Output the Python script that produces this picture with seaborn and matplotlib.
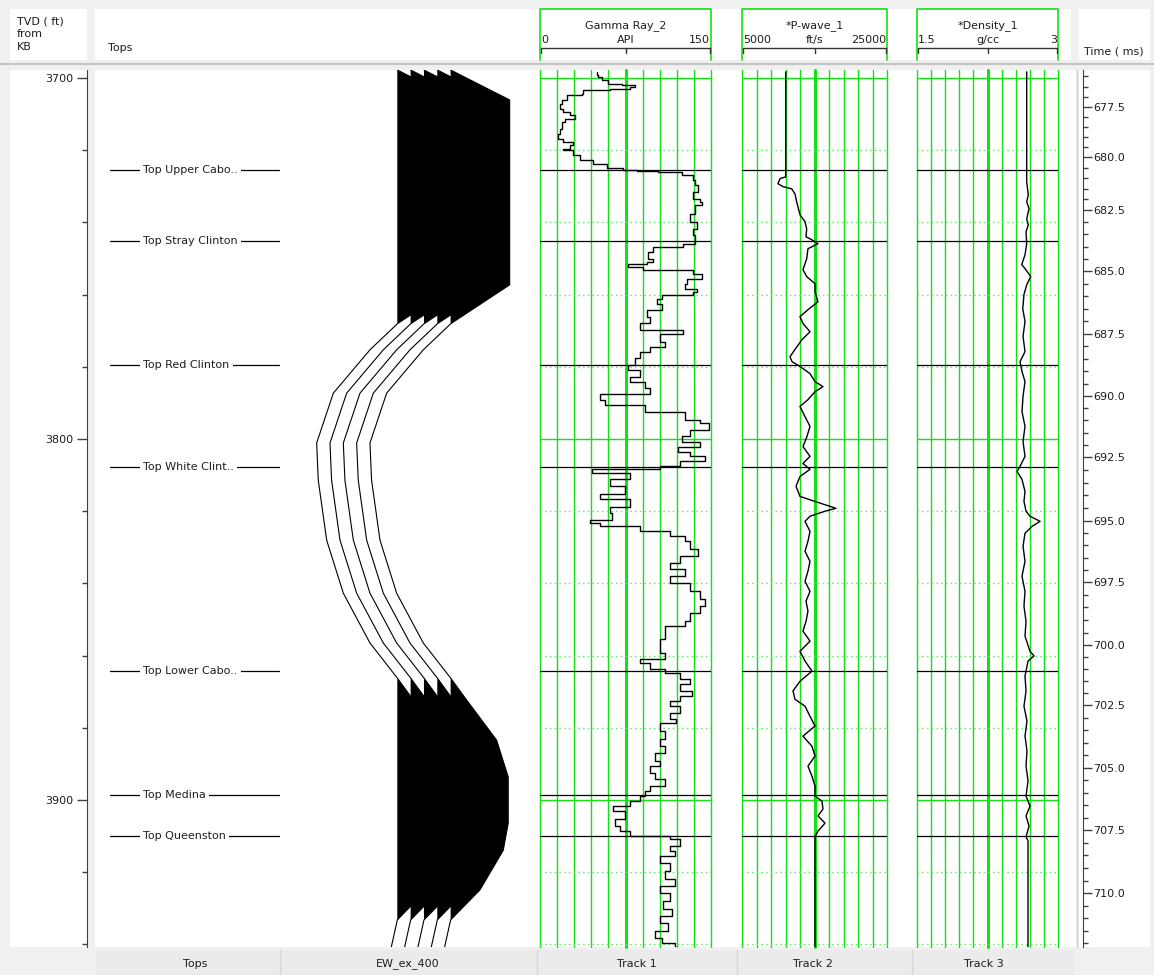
import numpy as np
import pandas as pd
import matplotlib
matplotlib.use("Agg")
import matplotlib.pyplot as plt
import seaborn as sns
from matplotlib.lines import Line2D
from matplotlib.patches import Rectangle
from matplotlib.ticker import MultipleLocator, FixedLocator, FormatStrFormatter

# -----------------------------
# Values read off the log display
# -----------------------------
top_names = ["Top Upper Cabo..", "Top Stray Clinton", "Top Red Clinton", "Top White Clint..",
             "Top Lower Cabo..", "Top Medina", "Top Queenston"]
top_depths = [3725.5, 3745.2, 3779.5, 3807.8, 3864.3, 3898.6, 3910.0]

# Gamma Ray_2 (API)
gr_depth = [3698.3, 3699.2, 3699.7, 3700.6, 3701.7, 3701.9, 3702.5, 3703.0, 3703.3, 3704.4,
            3704.7, 3706.1, 3707.2, 3708.6, 3709.4, 3710.2, 3711.3, 3712.2, 3714.1, 3715.5,
            3716.9, 3717.7, 3718.5, 3719.6, 3719.9, 3721.3, 3722.7, 3723.8, 3724.9, 3725.4,
            3725.7, 3726.0, 3726.8, 3728.2, 3729.6, 3731.5, 3733.5, 3734.3, 3735.1, 3737.6,
            3739.8, 3741.8, 3743.4, 3745.4, 3745.9, 3746.7, 3748.1, 3750.1, 3750.9, 3751.4,
            3752.3, 3753.1, 3754.2, 3755.6, 3757.0, 3758.4, 3759.2, 3760.0, 3761.1, 3762.5,
            3764.2, 3766.1, 3768.0, 3769.7, 3770.8, 3773.0, 3774.4, 3775.8, 3777.7, 3779.4,
            3780.8, 3782.7, 3784.1, 3785.8, 3787.4, 3789.1, 3790.5, 3792.4, 3794.6, 3795.7,
            3797.4, 3799.3, 3800.7, 3802.1, 3803.5, 3804.8, 3806.2, 3807.6, 3808.4, 3809.5,
            3811.2, 3813.1, 3815.1, 3816.5, 3818.7, 3820.6, 3822.3, 3823.4, 3824.2, 3825.6,
            3827.0, 3828.3, 3830.6, 3832.5, 3834.4, 3836.1, 3838.0, 3840.0, 3842.2, 3844.4,
            3846.3, 3848.3, 3850.5, 3851.9, 3853.8, 3855.5, 3857.4, 3859.3, 3861.0, 3862.1,
            3863.8, 3864.9, 3866.5, 3867.9, 3869.8, 3871.2, 3872.6, 3874.0, 3875.9, 3877.6,
            3878.7, 3880.9, 3883.1, 3885.0, 3887.0, 3889.2, 3890.6, 3892.5, 3894.2, 3896.1,
            3897.5, 3898.9, 3900.3, 3901.7, 3903.0, 3905.3, 3907.2, 3908.6, 3910.0, 3910.8,
            3912.7, 3914.1, 3915.5, 3917.4, 3919.6, 3921.8, 3923.8, 3925.7, 3927.9, 3930.2,
            3932.1, 3934.0, 3936.2, 3938.2, 3939.5, 3940.9]
gr_api = [49.7, 50.9, 54.1, 59.6, 71.7, 83.3, 78.9, 61.4, 37.7, 36.6,
          23.4, 19.0, 17.5, 20.2, 26.3, 30.7, 21.9, 19.0, 17.5, 15.8,
          20.2, 28.9, 26.3, 20.2, 28.9, 35.1, 46.5, 58.5, 72.8, 84.8,
          103.5, 124.3, 134.2, 135.9, 138.6, 134.2, 140.3, 141.8, 135.9, 131.6,
          137.4, 134.2, 135.9, 135.9, 125.4, 99.1, 94.7, 99.1, 93.6, 77.2,
          90.3, 134.2, 141.8, 128.7, 127.2, 137.4, 134.2, 106.7, 102.3, 106.7,
          93.6, 96.5, 87.7, 125.4, 105.2, 109.6, 96.5, 87.7, 83.3, 77.2,
          87.7, 78.9, 92.1, 96.5, 52.6, 57.0, 92.1, 127.2, 140.3, 148.2,
          131.6, 124.5, 140.3, 121.0, 131.6, 144.7, 122.8, 105.2, 45.6, 78.9,
          61.4, 74.5, 52.6, 78.9, 61.4, 63.1, 43.9, 52.6, 87.7, 114.0,
          127.2, 131.6, 138.6, 122.8, 114.0, 127.2, 114.0, 131.6, 140.3, 144.7,
          140.3, 131.6, 127.2, 109.6, 109.6, 105.2, 105.2, 109.6, 87.7, 96.5,
          109.6, 122.8, 131.6, 122.8, 133.3, 122.8, 114.0, 122.8, 114.0, 119.3,
          105.2, 109.6, 105.2, 109.6, 100.9, 105.2, 96.5, 100.9, 109.6, 96.5,
          92.1, 87.7, 78.9, 64.0, 74.5, 65.8, 70.2, 78.9, 114.0, 122.8,
          114.0, 118.4, 105.2, 114.0, 109.6, 118.4, 105.2, 114.0, 107.9, 115.8,
          105.2, 112.3, 100.9, 107.0, 118.4, 122.8]

# *P-wave_1 (ft/s)
vp_depth = [3698.3, 3727.4, 3727.9, 3729.3, 3730.1, 3730.7, 3732.1, 3734.3, 3737.9, 3739.8,
            3741.8, 3744.0, 3744.8, 3745.9, 3747.3, 3750.1, 3753.1, 3755.0, 3757.0, 3759.2,
            3762.0, 3764.2, 3766.1, 3768.0, 3770.3, 3772.5, 3775.2, 3777.2, 3778.6, 3779.9,
            3781.9, 3784.1, 3785.5, 3786.9, 3789.1, 3791.0, 3793.8, 3796.5, 3799.3, 3802.1,
            3804.8, 3806.8, 3808.4, 3810.4, 3813.1, 3815.9, 3817.3, 3819.2, 3820.0, 3821.4,
            3822.8, 3825.6, 3828.3, 3831.1, 3833.9, 3836.6, 3839.4, 3842.2, 3844.9, 3847.7,
            3850.5, 3853.2, 3856.0, 3858.8, 3861.5, 3864.3, 3867.1, 3869.8, 3872.1, 3874.0,
            3876.8, 3879.5, 3882.3, 3885.1, 3887.8, 3890.6, 3893.4, 3896.1, 3898.9, 3900.3,
            3902.5, 3904.4, 3906.4, 3908.6, 3910.2, 3940.9]
vp_fts = [11030, 11030, 10240, 9960, 10650, 11850, 12310, 12540, 13000, 13690,
          13920, 13830, 14610, 15480, 14100, 13920, 13410, 13920, 15070, 15070,
          15480, 14100, 13000, 13410, 14380, 13270, 12310, 11620, 11900, 13000,
          14380, 15070, 16170, 15070, 14100, 13000, 13690, 14380, 13960, 13410,
          14380, 13410, 14380, 13000, 12450, 13000, 15070, 17960, 16450, 14380,
          13690, 14380, 14100, 13690, 14380, 14100, 13690, 14380, 13830, 14100,
          13830, 13410, 14380, 13000, 13690, 14650, 13000, 12030, 12310, 13690,
          14380, 15070, 13410, 14650, 15070, 14100, 14650, 15070, 15070, 16030,
          16170, 15480, 16450, 15480, 15070, 15070]

# *Density_1 (g/cc)
rho_depth = [3698.3, 3727.4, 3728.8, 3732.4, 3734.3, 3736.2, 3739.0, 3740.7, 3742.6, 3745.9,
             3749.0, 3751.7, 3752.8, 3755.0, 3757.3, 3760.0, 3763.9, 3767.5, 3771.6, 3775.8,
             3778.6, 3781.3, 3784.1, 3788.2, 3792.4, 3796.5, 3800.7, 3804.8, 3807.6, 3809.0,
             3811.2, 3814.5, 3817.3, 3820.0, 3821.4, 3822.8, 3824.2, 3826.1, 3829.7, 3833.9,
             3838.0, 3842.2, 3846.3, 3850.5, 3854.6, 3858.8, 3860.1, 3861.5, 3865.7, 3869.8,
             3874.0, 3878.1, 3882.3, 3886.4, 3890.6, 3894.7, 3898.9, 3901.7, 3904.4, 3907.2,
             3910.2, 3911.3, 3940.9]
rho_gcc = [2.667, 2.667, 2.667, 2.684, 2.667, 2.692, 2.667, 2.684, 2.660, 2.667,
           2.649, 2.614, 2.649, 2.710, 2.667, 2.638, 2.625, 2.649, 2.628, 2.649,
           2.596, 2.617, 2.649, 2.628, 2.617, 2.649, 2.628, 2.649, 2.596, 2.564,
           2.617, 2.649, 2.638, 2.660, 2.702, 2.809, 2.724, 2.649, 2.628, 2.649,
           2.617, 2.649, 2.638, 2.660, 2.649, 2.702, 2.745, 2.681, 2.649, 2.660,
           2.638, 2.670, 2.649, 2.670, 2.660, 2.681, 2.660, 2.702, 2.660, 2.692,
           2.660, 2.681, 2.681]

# EW_ex_400 seismic trace, amplitude in trace spacings, shown 5 times
seis_depth = [3697.8, 3706.1, 3757.3, 3768.1, 3775.3, 3787.3, 3801.1, 3811.4, 3828.0, 3842.7,
              3856.5, 3866.2, 3872.3, 3883.4, 3893.6, 3906.4, 3913.9, 3924.9, 3933.2, 3940.7,
              3944.3]
seis_amp = [0.0, 4.43, 4.43, 0.0, -2.05, -4.80, -6.05, -5.93, -5.30, -4.05,
            -2.05, 0.0, 1.20, 3.45, 4.32, 4.32, 3.95, 2.20, 0.0, -0.45, -0.6]
n_traces = 5

# time-depth table for the right-hand Time (ms) axis
td_depth = [3690.0, 3708.0, 3721.9, 3736.6, 3753.5, 3770.9, 3788.1, 3805.0, 3822.7, 3839.6,
            3857.1, 3873.7, 3891.1, 3908.3, 3925.8, 3950.0]
td_time = [674.3, 677.5, 680.0, 682.5, 685.0, 687.5, 690.0, 692.5, 695.0, 697.5,
           700.0, 702.5, 705.0, 707.5, 710.0, 713.5]

track_titles = ["Gamma Ray_2", "*P-wave_1", "*Density_1"]
track_units = ["API", "ft/s", "g/cc"]
track_lo = [0, 5000, 1.5]
track_hi = [150, 25000, 3]
track_lo_txt = ["0", "5000", "1.5"]
track_hi_txt = ["150", "25000", "3"]
footer_names = ["Tops", "EW_ex_400", "Track 1", "Track 2", "Track 3"]

# -----------------------------
# Layout (pixels of the 1154x975 picture)
# -----------------------------
W, H = 1154, 975
TOP_Y, BOT_Y = 70, 947
D_TOP, D_BOT = 3697.8, 3940.7
GREEN = "#14e014"
GREEN_DOT = "#6ee86e"
TXT = "#1e1e1e"
AXC = "#404040"

sns.set_style("white")
plt.rcParams["font.family"] = ["DejaVu Sans"]

fig = plt.figure(figsize=(W / 100, H / 100), dpi=100)
fig.patch.set_facecolor("#f0f0f0")


def fig_rect(x0, y0, x1, y1, **kw):
    kw.setdefault("zorder", -10)
    fig.add_artist(Rectangle((x0 / W, 1 - y1 / H), (x1 - x0) / W, (y1 - y0) / H,
                             transform=fig.transFigure, **kw))


def fig_line(xs, ys, **kw):
    fig.add_artist(Line2D([x / W for x in xs], [1 - y / H for y in ys],
                          transform=fig.transFigure, **kw))


def fig_text(x, y, s, **kw):
    fig.text(x / W, 1 - y / H, s, fontsize=8, color=TXT, **kw)


def add_ax(x0, x1):
    ax = fig.add_axes([x0 / W, 1 - BOT_Y / H, (x1 - x0) / W, (BOT_Y - TOP_Y) / H])
    ax.patch.set_visible(False)
    return ax


# background panels
fig_rect(10, 9, 87, 60, fc="white", ec="none")
fig_rect(95, 9, 1071, 60, fc="white", ec="none")
fig_rect(1079, 9, 1150, 60, fc="white", ec="none")
fig_line([0, W], [64, 64], color="#c4c4c4", lw=1.5)
fig_rect(10, TOP_Y, 87, BOT_Y, fc="white", ec="none")
fig_rect(95, TOP_Y, 1076, BOT_Y, fc="white", ec="none")
fig_rect(1079, TOP_Y, 1150, BOT_Y, fc="white", ec="none")
fig_line([1077, 1077], [TOP_Y, BOT_Y], color="#d0d0d0", lw=1)

# header texts
fig_text(17, 21, "TVD ( ft)", ha="left", va="center")
fig_text(17, 34, "from", ha="left", va="center")
fig_text(17, 47, "KB", ha="left", va="center")
fig_text(108, 48, "Tops", ha="left", va="center")
fig_text(1084, 51, "Time ( ms)", ha="left", va="center")

# footer
fig_rect(96, 950, 1074, 975, fc="#ebebeb", ec="none")
for xx in [280, 537, 737, 912]:
    fig_line([xx, xx], [950, 975], color="#d6d6d6", lw=1)
for xx, name in zip([195, 408, 637, 813, 984], footer_names):
    fig_text(xx, 964, name, ha="center", va="center")

# depth axis
ax_d = add_ax(87, 88)
ax_d.set_ylim(D_BOT, D_TOP)
for s in ["top", "right", "bottom"]:
    ax_d.spines[s].set_visible(False)
ax_d.spines["left"].set_color(AXC)
ax_d.set_xticks([])
ax_d.yaxis.set_major_locator(MultipleLocator(100))
ax_d.yaxis.set_minor_locator(MultipleLocator(20))
ax_d.yaxis.set_major_formatter(FormatStrFormatter("%d"))
ax_d.tick_params(axis="y", which="both", left=True, right=False, direction="out")
ax_d.tick_params(axis="y", which="major", length=7.5, width=1, labelsize=8, pad=2,
                 color=AXC, labelcolor=TXT)
ax_d.tick_params(axis="y", which="minor", length=3.6, width=1, color=AXC)

# tops column
ax_t = add_ax(95, 280)
ax_t.set_xlim(0, 185)
ax_t.set_ylim(D_BOT, D_TOP)
ax_t.axis("off")
for name, d in zip(top_names, top_depths):
    ax_t.plot([15, 184], [d, d], color="black", lw=0.9)
    ax_t.text(48, d, name, ha="left", va="center", fontsize=8, color=TXT,
              bbox=dict(boxstyle="square,pad=0.3", fc="white", ec="none"))

# seismic wiggles
ax_w = add_ax(280, 537)
ax_w.set_xlim(-8.8, 10.48)
ax_w.set_ylim(D_BOT, D_TOP)
ax_w.axis("off")
sd = np.array(seis_depth)
sa = np.array(seis_amp)
for k in range(n_traces):
    xs = k + sa
    ax_w.fill_betweenx(sd, k, xs, where=xs >= k, interpolate=True, color="black", lw=0)
    ax_w.plot(xs, sd, color="black", lw=0.8)

# log tracks
track_x = [(540, 711), (742, 887), (917, 1058)]
logs = [pd.DataFrame({"depth": gr_depth, "value": gr_api}),
        pd.DataFrame({"depth": vp_depth, "value": vp_fts}),
        pd.DataFrame({"depth": rho_depth, "value": rho_gcc})]
styles = ["steps-pre", "default", "default"]

for i, (x0, x1) in enumerate(track_x):
    lo, hi = track_lo[i], track_hi[i]
    # header box
    fig_rect(x0, 9, x1, 60, fc="white", ec="none", zorder=-5)
    fig_line([x0, x0, x1, x1], [60, 9, 9, 60], color=GREEN, lw=1.2)
    xc = (x0 + x1) / 2
    fig_text(xc, 26, track_titles[i], ha="center", va="center")
    fig_text(x0 + 1, 40, track_lo_txt[i], ha="left", va="center")
    fig_text(xc, 40, track_units[i], ha="center", va="center")
    fig_text(x1 - 1, 40, track_hi_txt[i], ha="right", va="center")
    fig_line([x0 + 1, x1 - 1], [48, 48], color="#333333", lw=1)
    for xx in (x0 + 1, xc, x1 - 1):
        fig_line([xx, xx], [48, 53], color="#333333", lw=1)

    ax = add_ax(x0, x1)
    sns.lineplot(data=logs[i], x="value", y="depth", sort=False, estimator=None,
                 orient="y", color="black", lw=1, drawstyle=styles[i], ax=ax,
                 legend=False, zorder=5)
    ax.set_xlim(lo, hi)
    ax.set_ylim(D_BOT, D_TOP)
    ax.axis("off")
    for j, g in enumerate(np.linspace(lo, hi, 11)):
        ax.axvline(g, color=GREEN, lw=2.2 if j == 5 else 1.0, clip_on=False, zorder=1)
    for d in range(3700, 3950, 20):
        if d % 100 == 0:
            ax.axhline(d, color=GREEN, lw=1.0, zorder=1)
        else:
            ax.axhline(d, color=GREEN_DOT, lw=1.0, ls=(0, (1.2, 2.2)), zorder=1)
    for d in top_depths:
        ax.axhline(d, color="black", lw=0.9, zorder=3)

# time axis
ax_tm = add_ax(1076, 1083)
ax_tm.set_ylim(D_BOT, D_TOP)
for s in ax_tm.spines.values():
    s.set_visible(False)
ax_tm.set_xticks([])
ax_tm.set_yticks([])


def d2t(d):
    return np.interp(d, td_depth, td_time)


def t2d(t):
    return np.interp(t, td_time, td_depth)


t_lo, t_hi = d2t(D_TOP), d2t(D_BOT)
major_t = [t for t in np.arange(675.0, 715.0, 2.5) if t_lo <= t <= t_hi]
minor_t = [t for t in np.arange(675.0, 715.0, 0.5) if t_lo <= t <= t_hi]

sec = ax_tm.secondary_yaxis("right", functions=(d2t, t2d))
sec.spines["right"].set_color(AXC)
sec.yaxis.set_major_locator(FixedLocator(major_t))
sec.yaxis.set_minor_locator(FixedLocator(minor_t))
sec.yaxis.set_major_formatter(FormatStrFormatter("%.1f"))
sec.tick_params(axis="y", which="both", right=True, direction="out")
sec.tick_params(axis="y", which="major", length=6.5, width=1, labelsize=8, pad=1,
                color=AXC, labelcolor=TXT)
sec.tick_params(axis="y", which="minor", length=3.6, width=1, color=AXC)

fig.savefig("out.png", dpi=100, facecolor=fig.get_facecolor())
